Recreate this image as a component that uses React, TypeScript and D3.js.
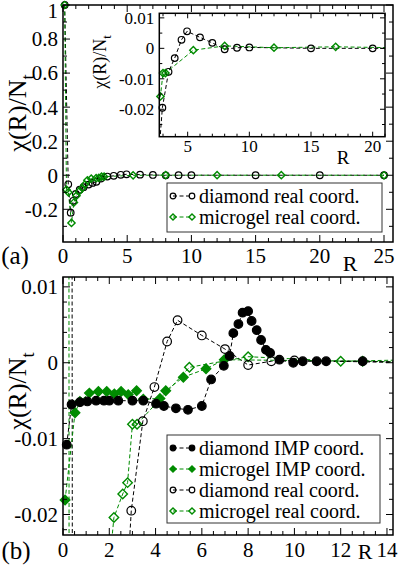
import React, { useEffect, useRef } from "react";
import * as d3 from "d3";

// diamond network, real coordinates (black open circles)
const diamondRealR = [0.13, 0.41, 0.6, 0.8, 1.0, 1.3, 1.6, 2.0, 2.3, 2.6, 2.95, 3.45, 3.95, 4.5, 4.95, 6, 7, 8, 9, 10, 15, 20, 25];
const diamondRealChi = [1, -0.053, -0.22, -0.15, -0.11, -0.085, -0.07, -0.055, -0.045, -0.038, -0.0195, -0.0077, -0.0032, 0.0028, 0.0056, 0.0036, 0.0018, -0.0003, 0.0002, 0.0003, 0.0, 0.0, 0.0];

// microgel, real coordinates (green open diamonds)
const microgelRealR = [0.13, 0.27, 0.42, 0.66, 0.85, 1.05, 1.25, 1.5, 1.7, 1.9, 2.2, 2.58, 2.79, 3.0, 3.2, 5.46, 8.0, 12.0, 17.0, 25.0];
const microgelRealChi = [1, -0.085, -0.1, -0.28, -0.16, -0.12, -0.095, -0.075, -0.055, -0.03, -0.0204, -0.0173, -0.0158, -0.0081, -0.0081, -0.0006, 0.0008, 0.0002, 0.0005, 0.0];

// diamond network, IMP coordinates (black filled circles)
const diamondImpR = [0.16, 0.37, 0.73, 1.05, 1.43, 1.77, 2.0, 2.39, 3.0, 3.47, 4.02, 4.36, 4.88, 5.4, 6.0, 6.4, 6.95, 7.2, 7.36, 7.58, 7.76, 8.0, 8.15, 8.37, 8.56, 8.77, 8.95, 9.35, 9.95, 10.36, 10.96, 11.37, 12.95, 14.5];
const diamondImpChi = [-0.0108, -0.0055, -0.0052, -0.0051, -0.005, -0.005, -0.005, -0.005, -0.005, -0.005, -0.0054, -0.0057, -0.006, -0.0062, -0.0057, -0.0022, -0.0004, 0.0009, 0.0039, 0.0051, 0.0066, 0.0068, 0.0055, 0.0043, 0.003, 0.0017, 0.0013, 0.0004, 0.0, 0.0002, 0.0002, 0.0002, 0.0002, 0.0001];

// microgel, IMP coordinates (green filled diamonds)
const microgelImpR = [0.09, 0.52, 0.73, 1.14, 1.53, 1.89, 2.22, 2.51, 2.82, 3.18, 3.47, 4.19, 4.44, 5.2, 6.18, 6.97, 12.95, 14.5];
const microgelImpChi = [-0.0181, -0.0066, -0.0051, -0.004, -0.0038, -0.0038, -0.0041, -0.0038, -0.0042, -0.0037, -0.0048, -0.0047, -0.0037, -0.0019, -0.0008, 0.0004, 0.0002, 0.0001];

const legendA = ["diamond real coord.", "microgel real coord."];
const legendB = ["diamond IMP coord.", "microgel IMP coord.", "diamond real coord.", "microgel real coord."];

const GREEN = "#008b00";
const FONT = "Liberation Serif, Times New Roman, Times, DejaVu Serif, serif";

type Series = { r: number[]; chi: number[]; color: string; shape: "circle" | "diamond"; filled: boolean };

const diamondReal: Series = { r: diamondRealR, chi: diamondRealChi, color: "black", shape: "circle", filled: false };
const microgelReal: Series = { r: microgelRealR, chi: microgelRealChi, color: GREEN, shape: "diamond", filled: false };
const diamondImp: Series = { r: diamondImpR, chi: diamondImpChi, color: "black", shape: "circle", filled: true };
const microgelImp: Series = { r: microgelImpR, chi: microgelImpChi, color: GREEN, shape: "diamond", filled: true };

function marker(g: any, s: Series, cx: number, cy: number, size: number) {
  const fill = s.filled ? s.color : "none";
  if (s.shape === "circle") {
    g.append("circle").attr("cx", cx).attr("cy", cy).attr("r", size)
      .attr("fill", fill).attr("stroke", s.color).attr("stroke-width", 1.2);
  } else {
    const d = size * 1.1;
    g.append("path").attr("d", `M${cx},${cy - d}L${cx + d},${cy}L${cx},${cy + d}L${cx - d},${cy}Z`)
      .attr("fill", fill).attr("stroke", s.color).attr("stroke-width", 1.4);
  }
}

function ticks(d0: number, d1: number, step: number) {
  const out: number[] = [];
  const start = Math.ceil(d0 / step - 1e-6);
  for (let k = start; k * step <= d1 + step * 1e-6; k++) out.push(+(k * step).toFixed(6));
  return out;
}

const fmt = (v: number) => String(+v.toFixed(4));

function drawPanel(svg: any, p: any) {
  const x = d3.scaleLinear().domain(p.xDomain).range([p.left, p.right]);
  const y = d3.scaleLinear().domain(p.yDomain).range([p.bottom, p.top]);
  const g = svg.append("g");
  if (p.background) {
    g.append("rect").attr("x", p.left).attr("y", p.top)
      .attr("width", p.right - p.left).attr("height", p.bottom - p.top).attr("fill", "white");
  }
  svg.append("defs").append("clipPath").attr("id", p.id)
    .append("rect").attr("x", p.left).attr("y", p.top)
    .attr("width", p.right - p.left).attr("height", p.bottom - p.top);

  p.series.forEach((s: Series) => {
    const line = d3.line<number>().x(i => x(s.r[i])).y(i => y(s.chi[i]));
    g.append("path").datum(d3.range(s.r.length)).attr("d", line)
      .attr("clip-path", `url(#${p.id})`)
      .attr("fill", "none").attr("stroke", s.color).attr("stroke-width", 1)
      .attr("stroke-dasharray", "4,2.5");
  });
  p.series.forEach((s: Series) => {
    s.r.forEach((r, i) => {
      const v = s.chi[i];
      if (r < p.xDomain[0] || r > p.xDomain[1] || v < p.yDomain[0] - 1e-9 || v > p.yDomain[1] + 1e-9) return;
      marker(g, s, x(r), y(v), p.markerSize);
    });
  });

  // frame
  g.append("rect").attr("x", p.left).attr("y", p.top)
    .attr("width", p.right - p.left).attr("height", p.bottom - p.top)
    .attr("fill", "none").attr("stroke", "black").attr("stroke-width", 1.5);

  const tk = g.append("g").attr("stroke", "black").attr("stroke-width", 1);
  const xMaj = ticks(p.xDomain[0], p.xDomain[1], p.xMajor);
  const yMaj = ticks(p.yDomain[0], p.yDomain[1], p.yMajor);
  const isMaj = (v: number, step: number) => Math.abs(v / step - Math.round(v / step)) < 1e-6;
  const xMin = ticks(p.xDomain[0], p.xDomain[1], p.xMinor).filter(v => !isMaj(v, p.xMajor));
  const yMin = ticks(p.yDomain[0], p.yDomain[1], p.yMinor).filter(v => !isMaj(v, p.yMajor));

  const xt = (vals: number[], len: number) => vals.forEach(v => {
    tk.append("line").attr("x1", x(v)).attr("x2", x(v)).attr("y1", p.bottom).attr("y2", p.bottom - len);
    tk.append("line").attr("x1", x(v)).attr("x2", x(v)).attr("y1", p.top).attr("y2", p.top + len);
  });
  const yt = (vals: number[], len: number) => vals.forEach(v => {
    tk.append("line").attr("y1", y(v)).attr("y2", y(v)).attr("x1", p.left).attr("x2", p.left + len);
    tk.append("line").attr("y1", y(v)).attr("y2", y(v)).attr("x1", p.right).attr("x2", p.right - len);
  });
  xt(xMaj, p.majorLen); xt(xMin, p.minorLen);
  yt(yMaj, p.majorLen); yt(yMin, p.minorLen);

  const lab = g.append("g").style("font-family", FONT).attr("font-size", p.fontSize).attr("fill", "black");
  xMaj.forEach(v => {
    lab.append("text").attr("x", x(v)).attr("y", p.bottom + p.xLabelGap).attr("text-anchor", "middle").text(fmt(v));
  });
  yMaj.forEach(v => {
    lab.append("text").attr("x", p.left - p.yLabelGap).attr("y", Math.max(y(v), 11)).attr("dy", "0.35em")
      .attr("text-anchor", "end").text(fmt(v));
  });

  // axis titles
  lab.append("text").attr("x", p.rLabel[0]).attr("y", p.rLabel[1]).attr("text-anchor", "middle")
    .attr("dy", "0.35em").attr("font-size", p.rSize).text("R");
  const yl = lab.append("text").attr("text-anchor", "middle").attr("font-size", p.chiSize)
    .attr("transform", `translate(${p.chiLabel[0]},${p.chiLabel[1]}) rotate(-90)`);
  yl.append("tspan").text("χ(R)/N");
  yl.append("tspan").attr("font-size", p.chiSize * 0.7).attr("dy", p.chiSize * 0.3).text("t");
}

function drawLegend(svg: any, box: number[], entries: string[], series: Series[], rowH: number) {
  const g = svg.append("g");
  g.append("rect").attr("x", box[0]).attr("y", box[1]).attr("width", box[2]).attr("height", box[3])
    .attr("fill", "white").attr("stroke", "#333").attr("stroke-width", 1);
  entries.forEach((t, i) => {
    const cy = box[1] + 13 + i * rowH;
    const s = series[i];
    g.append("line").attr("x1", box[0] + 6).attr("x2", box[0] + 25).attr("y1", cy).attr("y2", cy)
      .attr("stroke", s.color).attr("stroke-width", 1).attr("stroke-dasharray", "4,2.5");
    marker(g, s, box[0] + 6, cy, 2.8);
    marker(g, s, box[0] + 25, cy, 2.8);
    g.append("text").attr("x", box[0] + 32).attr("y", cy).attr("dy", "0.33em")
      .style("font-family", FONT).attr("font-size", 20).text(t);
  });
}

export default function App() {
  const ref = useRef<SVGSVGElement>(null);
  useEffect(() => {
    const svg = d3.select(ref.current);
    svg.selectAll("*").remove();

    // panel (a)
    drawPanel(svg, {
      id: "clipA", left: 63, right: 393, top: 5, bottom: 242,
      xDomain: [0, 25.7], yDomain: [-0.392, 1],
      xMajor: 5, xMinor: 1, yMajor: 0.2, yMinor: 0.1,
      majorLen: 7, minorLen: 4, fontSize: 21, xLabelGap: 21, yLabelGap: 5,
      markerSize: 3.3, series: [diamondReal, microgelReal],
      rLabel: [350, 263], rSize: 22, chiLabel: [26, 113], chiSize: 26,
    });
    drawLegend(svg, [167, 183, 215, 49], legendA, [diamondReal, microgelReal], 21);
    svg.append("text").attr("x", 15).attr("y", 255).attr("dy", "0.35em").attr("text-anchor", "middle")
      .style("font-family", FONT).attr("font-size", 25).text("(a)");

    // inset
    drawPanel(svg, {
      id: "clipI", left: 159.3, right: 385, top: 13.3, bottom: 136.7, background: true,
      xDomain: [2.7, 21], yDomain: [-0.029, 0.0115],
      xMajor: 5, xMinor: 1, yMajor: 0.01, yMinor: 0.005,
      majorLen: 5, minorLen: 3, fontSize: 17, xLabelGap: 15, yLabelGap: 5,
      markerSize: 3.3, series: [diamondReal, microgelReal],
      rLabel: [343, 157], rSize: 19, chiLabel: [106, 62], chiSize: 18,
    });

    // panel (b)
    drawPanel(svg, {
      id: "clipB", left: 63, right: 393, top: 277, bottom: 535,
      xDomain: [0, 14.26], yDomain: [-0.0227, 0.0113],
      xMajor: 2, xMinor: 0.5, yMajor: 0.01, yMinor: 0.002,
      majorLen: 7, minorLen: 4, fontSize: 21, xLabelGap: 22, yLabelGap: 5,
      markerSize: 4.3, series: [microgelReal, diamondReal, microgelImp, diamondImp],
      rLabel: [365, 551], rSize: 22, chiLabel: [26, 391], chiSize: 26,
    });
    drawLegend(svg, [167, 435, 213, 88], legendB, [diamondImp, microgelImp, diamondReal, microgelReal], 21);
    svg.append("text").attr("x", 16).attr("y", 550).attr("dy", "0.35em").attr("text-anchor", "middle")
      .style("font-family", FONT).attr("font-size", 25).text("(b)");
  }, []);

  return (
    <svg ref={ref} width={399} height={565}
      style={{ position: "absolute", left: 0, top: 0, background: "white" }} />
  );
}
